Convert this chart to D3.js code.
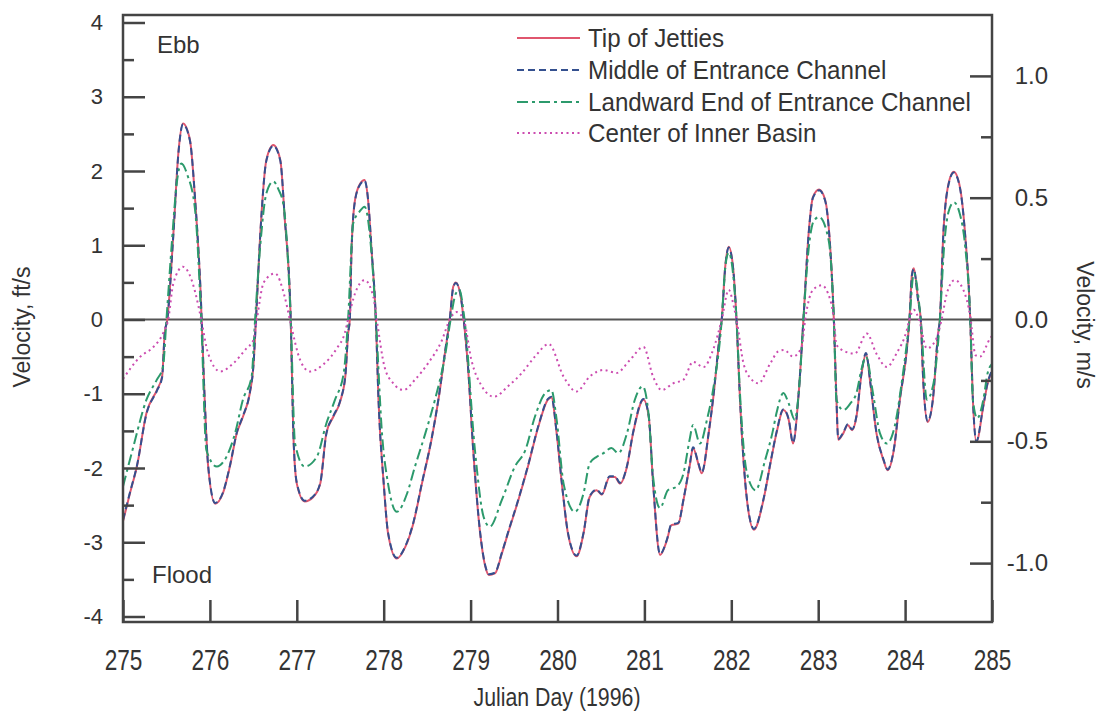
<!DOCTYPE html>
<html>
<head>
<meta charset="utf-8">
<script src="https://cdn.jsdelivr.net/npm/d3@7"></script>
<style>
  body { margin: 0; background: #fff; }
  text { font-family: "Liberation Sans", Arial, sans-serif; fill: #333; }
</style>
</head>
<body>
<div id="chart-container"></div>
<script>
'use strict'

// day, ft/s
var tipOfJetties = [
  [275.00,-2.72],[275.08,-2.34],[275.16,-1.98],[275.27,-1.26],[275.39,-0.95],[275.45,-0.77],[275.48,-0.18],[275.51,0],
  [275.58,1.16],[275.64,2.28],[275.69,2.64],[275.77,2.42],[275.83,1.61],[275.89,0.44],[275.94,-1.08],[275.98,-1.98],
  [276.06,-2.48],[276.15,-2.34],[276.23,-1.98],[276.31,-1.53],[276.38,-1.31],[276.46,-0.99],[276.50,-0.64],[276.53,0],
  [276.58,1.16],[276.65,2.15],[276.73,2.35],[276.81,2.15],[276.86,1.38],[276.93,0],[276.96,-1.53],[277.00,-2.21],
  [277.09,-2.45],[277.19,-2.39],[277.27,-2.21],[277.34,-1.53],[277.42,-1.31],[277.50,-1.10],[277.56,-0.75],[277.59,-0.20],
  [277.61,0],[277.63,0.94],[277.67,1.61],[277.73,1.83],[277.78,1.88],[277.82,1.61],[277.86,0.94],[277.91,0],
  [277.94,-1.08],[278.00,-2.21],[278.05,-2.88],[278.15,-3.22],[278.25,-3.06],[278.34,-2.75],[278.44,-2.21],[278.55,-1.62],
  [278.63,-1.08],[278.71,-0.41],[278.76,0],[278.80,0.44],[278.83,0.50],[278.88,0.35],[278.92,0],[278.97,-0.64],
  [279.03,-1.76],[279.11,-2.88],[279.17,-3.33],[279.21,-3.44],[279.28,-3.42],[279.36,-3.15],[279.43,-2.88],[279.55,-2.43],
  [279.66,-1.98],[279.78,-1.44],[279.89,-1.08],[279.93,-1.05],[279.99,-1.53],[280.05,-2.21],[280.12,-2.88],[280.22,-3.19],
  [280.30,-2.88],[280.37,-2.39],[280.45,-2.30],[280.51,-2.36],[280.60,-2.12],[280.66,-2.12],[280.72,-2.21],[280.80,-1.98],
  [280.87,-1.53],[280.99,-1.08],[281.05,-1.31],[281.10,-2.21],[281.18,-3.17],[281.26,-2.97],[281.31,-2.77],[281.39,-2.75],
  [281.45,-2.43],[281.52,-1.98],[281.56,-1.73],[281.62,-1.94],[281.66,-2.07],[281.74,-1.53],[281.79,-1.08],[281.87,-0.19],
  [281.89,0],[281.93,0.71],[281.97,0.98],[282.02,0.71],[282.06,0],[282.10,-1.08],[282.18,-2.43],[282.26,-2.83],
  [282.37,-2.43],[282.45,-1.94],[282.52,-1.53],[282.60,-1.22],[282.66,-1.35],[282.71,-1.67],[282.77,-1.08],[282.83,0],
  [282.89,1.16],[282.94,1.65],[283.01,1.75],[283.08,1.61],[283.14,0.94],[283.18,0],[283.21,-1.08],[283.23,-1.62],
  [283.29,-1.53],[283.34,-1.42],[283.39,-1.49],[283.44,-1.31],[283.50,-0.72],[283.55,-0.46],[283.60,-0.86],[283.67,-1.53],
  [283.75,-1.89],[283.80,-2.03],[283.87,-1.76],[283.94,-1.08],[284.02,-0.41],[284.05,0],[284.08,0.62],[284.10,0.69],
  [284.15,0.26],[284.18,0],[284.21,-0.86],[284.26,-1.38],[284.32,-1.08],[284.38,-0.19],[284.40,0],[284.44,1.16],
  [284.50,1.83],[284.56,1.99],[284.63,1.79],[284.69,1.16],[284.75,0],[284.78,-1.08],[284.82,-1.65],[284.90,-1.17],
  [284.95,-0.86],[285.00,-0.70]
]

var middleOfChannel = [
  [275.00,-2.70],[275.08,-2.33],[275.16,-1.97],[275.27,-1.27],[275.39,-0.96],[275.45,-0.78],[275.48,-0.19],[275.51,0],
  [275.58,1.15],[275.64,2.27],[275.69,2.63],[275.77,2.41],[275.83,1.62],[275.89,0.45],[275.94,-1.07],[275.98,-1.97],
  [276.06,-2.47],[276.15,-2.33],[276.23,-1.97],[276.31,-1.52],[276.38,-1.30],[276.46,-0.98],[276.50,-0.63],[276.53,0],
  [276.58,1.15],[276.65,2.14],[276.73,2.34],[276.81,2.14],[276.86,1.39],[276.93,0],[276.96,-1.52],[277.00,-2.20],
  [277.09,-2.44],[277.19,-2.38],[277.27,-2.20],[277.34,-1.54],[277.42,-1.30],[277.50,-1.09],[277.56,-0.74],[277.59,-0.19],
  [277.61,0],[277.63,0.93],[277.67,1.60],[277.73,1.82],[277.78,1.87],[277.82,1.62],[277.86,0.95],[277.91,0],
  [277.94,-1.07],[278.00,-2.20],[278.05,-2.87],[278.15,-3.21],[278.25,-3.05],[278.34,-2.74],[278.44,-2.20],[278.55,-1.61],
  [278.63,-1.07],[278.71,-0.40],[278.76,0],[278.80,0.43],[278.83,0.49],[278.88,0.36],[278.92,0],[278.97,-0.63],
  [279.03,-1.75],[279.11,-2.87],[279.17,-3.32],[279.21,-3.43],[279.28,-3.41],[279.36,-3.14],[279.43,-2.87],[279.55,-2.42],
  [279.66,-1.97],[279.78,-1.43],[279.89,-1.07],[279.93,-1.04],[279.99,-1.52],[280.05,-2.20],[280.12,-2.87],[280.22,-3.18],
  [280.30,-2.87],[280.37,-2.38],[280.45,-2.29],[280.51,-2.35],[280.60,-2.11],[280.66,-2.11],[280.72,-2.20],[280.80,-1.97],
  [280.87,-1.52],[280.99,-1.07],[281.05,-1.30],[281.10,-2.20],[281.18,-3.16],[281.26,-2.96],[281.31,-2.76],[281.39,-2.74],
  [281.45,-2.42],[281.52,-1.97],[281.56,-1.72],[281.62,-1.93],[281.66,-2.06],[281.74,-1.52],[281.79,-1.07],[281.87,-0.18],
  [281.89,0],[281.93,0.70],[281.97,0.97],[282.02,0.70],[282.06,0],[282.10,-1.07],[282.18,-2.42],[282.26,-2.82],
  [282.37,-2.42],[282.45,-1.93],[282.52,-1.52],[282.60,-1.21],[282.66,-1.34],[282.71,-1.66],[282.77,-1.07],[282.83,0],
  [282.89,1.15],[282.94,1.64],[283.01,1.74],[283.08,1.60],[283.14,0.93],[283.18,0],[283.21,-1.07],[283.23,-1.61],
  [283.29,-1.52],[283.34,-1.41],[283.39,-1.48],[283.44,-1.30],[283.50,-0.71],[283.55,-0.45],[283.60,-0.85],[283.67,-1.52],
  [283.75,-1.88],[283.80,-2.02],[283.87,-1.75],[283.94,-1.07],[284.02,-0.40],[284.05,0],[284.08,0.61],[284.10,0.68],
  [284.15,0.25],[284.18,0],[284.21,-0.85],[284.26,-1.37],[284.32,-1.07],[284.38,-0.18],[284.40,0],[284.44,1.15],
  [284.50,1.82],[284.56,1.98],[284.63,1.78],[284.69,1.15],[284.75,0],[284.78,-1.07],[284.82,-1.64],[284.90,-1.16],
  [284.95,-0.85],[285.00,-0.69]
]

var landwardEnd = [
  [275.00,-2.25],[275.12,-1.71],[275.27,-1.08],[275.39,-0.81],[275.46,-0.64],[275.50,0],[275.56,1.00],[275.62,1.85],
  [275.67,2.10],[275.74,1.95],[275.83,1.47],[275.90,0],[275.96,-1.76],[276.08,-1.98],[276.19,-1.85],[276.29,-1.53],
  [276.38,-1.08],[276.48,-0.77],[276.52,0],[276.58,1.00],[276.65,1.70],[276.73,1.86],[276.79,1.75],[276.85,1.52],
  [276.93,0],[276.98,-1.67],[277.09,-1.98],[277.23,-1.85],[277.34,-1.40],[277.44,-1.08],[277.54,-0.72],[277.59,0],
  [277.65,1.30],[277.72,1.45],[277.78,1.52],[277.86,0.89],[277.91,0],[277.98,-1.53],[278.05,-2.21],[278.15,-2.59],
  [278.27,-2.34],[278.36,-1.98],[278.48,-1.53],[278.59,-1.08],[278.71,-0.46],[278.77,0],[278.83,0.35],[278.87,0.40],
  [278.93,0],[279.05,-1.76],[279.15,-2.66],[279.22,-2.79],[279.36,-2.43],[279.51,-1.98],[279.63,-1.76],[279.74,-1.31],
  [279.86,-0.99],[279.93,-0.95],[279.99,-1.35],[280.07,-2.21],[280.20,-2.59],[280.30,-2.34],[280.37,-1.94],[280.45,-1.85],
  [280.53,-1.80],[280.62,-1.73],[280.70,-1.80],[280.80,-1.53],[280.89,-1.08],[280.98,-0.90],[281.05,-1.30],[281.10,-2.12],
  [281.18,-2.54],[281.27,-2.30],[281.37,-2.25],[281.45,-2.07],[281.52,-1.62],[281.56,-1.42],[281.64,-1.67],[281.72,-1.35],
  [281.79,-0.95],[281.89,0],[281.93,0.70],[281.97,0.90],[282.02,0.62],[282.06,0],[282.10,-1.00],[282.18,-2.07],
  [282.28,-2.30],[282.39,-1.89],[282.48,-1.49],[282.52,-1.26],[282.60,-0.99],[282.66,-1.13],[282.73,-1.35],[282.79,-0.77],
  [282.83,0],[282.89,0.95],[282.95,1.33],[283.01,1.38],[283.12,1.07],[283.18,0],[283.21,-1.08],[283.29,-1.22],
  [283.37,-1.13],[283.44,-0.99],[283.50,-0.66],[283.55,-0.50],[283.63,-0.99],[283.71,-1.53],[283.79,-1.67],[283.88,-1.44],
  [283.96,-0.86],[284.05,0],[284.10,0.62],[284.18,0],[284.25,-1.08],[284.32,-0.90],[284.40,0],[284.45,1.00],
  [284.50,1.45],[284.56,1.58],[284.63,1.42],[284.69,1.00],[284.75,0],[284.78,-1.08],[284.83,-1.33],[284.90,-1.08],
  [284.95,-0.72],[285.00,-0.60]
]

var innerBasin = [
  [275.00,-0.80],[275.20,-0.50],[275.35,-0.37],[275.46,-0.19],[275.52,0],[275.58,0.49],[275.69,0.71],[275.79,0.53],
  [275.87,0.17],[275.90,0],[275.98,-0.46],[276.12,-0.70],[276.27,-0.59],[276.42,-0.39],[276.50,-0.28],[276.54,0],
  [276.62,0.50],[276.75,0.62],[276.86,0.31],[276.92,0],[277.04,-0.55],[277.15,-0.70],[277.30,-0.61],[277.46,-0.39],
  [277.55,-0.19],[277.59,0],[277.67,0.35],[277.78,0.53],[277.88,0.31],[277.92,0],[278.01,-0.64],[278.11,-0.86],
  [278.23,-0.95],[278.36,-0.81],[278.51,-0.59],[278.67,-0.28],[278.76,0],[278.84,0.10],[278.92,0],[279.01,-0.55],
  [279.13,-0.90],[279.27,-1.04],[279.43,-0.90],[279.59,-0.72],[279.74,-0.50],[279.90,-0.33],[280.07,-0.77],[280.22,-0.97],
  [280.37,-0.77],[280.53,-0.68],[280.68,-0.72],[280.83,-0.55],[280.99,-0.37],[281.10,-0.77],[281.20,-0.95],[281.33,-0.86],
  [281.45,-0.81],[281.56,-0.57],[281.68,-0.64],[281.79,-0.41],[281.89,0],[281.97,0.40],[282.03,0.17],[282.06,0],
  [282.14,-0.59],[282.22,-0.79],[282.31,-0.86],[282.45,-0.59],[282.54,-0.43],[282.61,-0.41],[282.71,-0.50],[282.81,-0.37],
  [282.85,0],[282.94,0.40],[283.04,0.46],[283.14,0.26],[283.18,0],[283.21,-0.34],[283.31,-0.43],[283.42,-0.46],
  [283.56,-0.19],[283.67,-0.46],[283.79,-0.64],[283.90,-0.46],[284.02,-0.14],[284.05,0],[284.10,0.13],[284.16,0],
  [284.25,-0.39],[284.35,-0.28],[284.42,0],[284.48,0.35],[284.57,0.53],[284.67,0.40],[284.75,0.04],[284.81,-0.48],
  [284.86,-0.50],[284.98,-0.25],[285.00,-0.22]
]

var seriesNames = ['Tip of Jetties', 'Middle of Entrance Channel', 'Landward End of Entrance Channel', 'Center of Inner Basin']
var dayTicks = [275, 276, 277, 278, 279, 280, 281, 282, 283, 284, 285]
var ftTicks = [-4, -3, -2, -1, 0, 1, 2, 3, 4]
var ftMinorTicks = [-3.5, -2.5, -1.5, -0.5, 0.5, 1.5, 2.5, 3.5]
var msTicks = [-1.0, -0.5, 0.0, 0.5, 1.0]
var msMinorTicks = [-0.75, -0.25, 0.25, 0.75]

var FT_PER_M = 3.2808

var styles = [
  { color: '#e0566e', dash: null },
  { color: '#34508f', dash: '7,4' },
  { color: '#2c9a6c', dash: '11,4,3,4' },
  { color: '#cc4cb0', dash: '2,3.5' }
]

var box = { left: 123, right: 992, top: 15, bottom: 622 }

var svg = d3.select('#chart-container')
  .append('svg').attr('class', 'chart')
    .attr('width', 1105)
    .attr('height', 725)

var x = d3.scaleLinear().domain([275, 285]).range([box.left, box.right])
var y = d3.scaleLinear().domain([-4.074, 4.101]).range([box.bottom, box.top])
var yMs = d3.scaleLinear().domain([-4.074 / FT_PER_M, 4.101 / FT_PER_M]).range([box.bottom, box.top])

svg.append('defs').append('clipPath').attr('id', 'plot-clip')
  .append('rect').attr('x', box.left).attr('y', box.top)
    .attr('width', box.right - box.left).attr('height', box.bottom - box.top)

// zero line
svg.append('line')
  .attr('x1', box.left).attr('x2', box.right)
  .attr('y1', y(0)).attr('y2', y(0))
  .style('stroke', '#555').style('stroke-width', 2)

var line = d3.line()
  .x(d => x(d[0]))
  .y(d => y(d[1]))
  .curve(d3.curveMonotoneX)

var allSeries = [tipOfJetties, middleOfChannel, landwardEnd, innerBasin]

var plot = svg.append('g').attr('clip-path', 'url(#plot-clip)')
allSeries.forEach((s, i) => {
  plot.append('path')
    .datum(s)
    .attr('d', line)
    .style('fill', 'none')
    .style('stroke', styles[i].color)
    .style('stroke-width', 2)
    .style('stroke-dasharray', styles[i].dash)
})

var styleAxis = function(g) {
  g.select('.domain').remove()
  g.selectAll('line').style('stroke', '#444').style('stroke-width', 2.5)
  g.selectAll('text').style('fill', '#333')
}

// left axis, ft/s
svg.append('g')
  .attr('transform', 'translate(' + box.left + ',0)')
  .call(d3.axisLeft(y).tickValues(ftTicks).tickSizeInner(-22).tickSizeOuter(0).tickPadding(20).tickFormat(d => String(d)))
  .call(styleAxis)
  .selectAll('text').style('font-size', '22px').style('font-family', '"Liberation Sans", Arial, sans-serif')

svg.append('g')
  .attr('transform', 'translate(' + box.left + ',0)')
  .call(d3.axisLeft(y).tickValues(ftMinorTicks).tickSizeInner(-11).tickSizeOuter(0).tickFormat(''))
  .call(styleAxis)

// right axis, m/s
svg.append('g')
  .attr('transform', 'translate(' + box.right + ',0)')
  .call(d3.axisRight(yMs).tickValues(msTicks).tickSizeInner(-22).tickSizeOuter(0).tickFormat(d => d.toFixed(1)))
  .call(styleAxis)
  .selectAll('text')
    .attr('text-anchor', 'end').attr('x', 56)
    .style('font-size', '24px').style('font-family', '"Liberation Sans", Arial, sans-serif')

svg.append('g')
  .attr('transform', 'translate(' + box.right + ',0)')
  .call(d3.axisRight(yMs).tickValues(msMinorTicks).tickSizeInner(-11).tickSizeOuter(0).tickFormat(''))
  .call(styleAxis)

// bottom axis
svg.append('g')
  .attr('transform', 'translate(0,' + box.bottom + ')')
  .call(d3.axisBottom(x).tickValues(dayTicks).tickSizeInner(-22).tickSizeOuter(0).tickPadding(27).tickFormat(d => String(d)))
  .call(styleAxis)
  .selectAll('text')
    .attr('transform', 'scale(0.78,1)')
    .style('font-size', '29px').style('font-family', '"Liberation Sans", Arial, sans-serif')

// frame
svg.append('rect')
  .attr('x', box.left).attr('y', box.top)
  .attr('width', box.right - box.left).attr('height', box.bottom - box.top)
  .style('fill', 'none').style('stroke', '#444').style('stroke-width', 2.5)

// axis titles
svg.append('text')
  .attr('transform', 'translate(557,706) scale(0.82,1)')
  .style('text-anchor', 'middle').style('font-size', '26px')
  .text('Julian Day (1996)')

svg.append('text')
  .attr('transform', 'translate(30,327) rotate(-90)')
  .style('text-anchor', 'middle').style('font-size', '23px')
  .text('Velocity, ft/s')

svg.append('text')
  .attr('transform', 'translate(1077,325) rotate(90)')
  .style('text-anchor', 'middle').style('font-size', '23px')
  .text('Velocity, m/s')

svg.append('text').attr('x', 157).attr('y', 53).style('font-size', '24px').text('Ebb')
svg.append('text').attr('x', 152).attr('y', 583).style('font-size', '24px').text('Flood')

// legend
var legendRows = [38, 70, 102, 133]
var legend = svg.append('g')
seriesNames.forEach((name, i) => {
  legend.append('line')
    .attr('x1', 517).attr('x2', 580)
    .attr('y1', legendRows[i]).attr('y2', legendRows[i])
    .style('stroke', styles[i].color)
    .style('stroke-width', 2)
    .style('stroke-dasharray', styles[i].dash)
  legend.append('text')
    .attr('transform', 'translate(588,' + legendRows[i] + ') scale(0.93,1)')
    .attr('dy', '0.35em')
    .style('font-size', '26px')
    .text(name)
})
</script>
</body>
</html>
